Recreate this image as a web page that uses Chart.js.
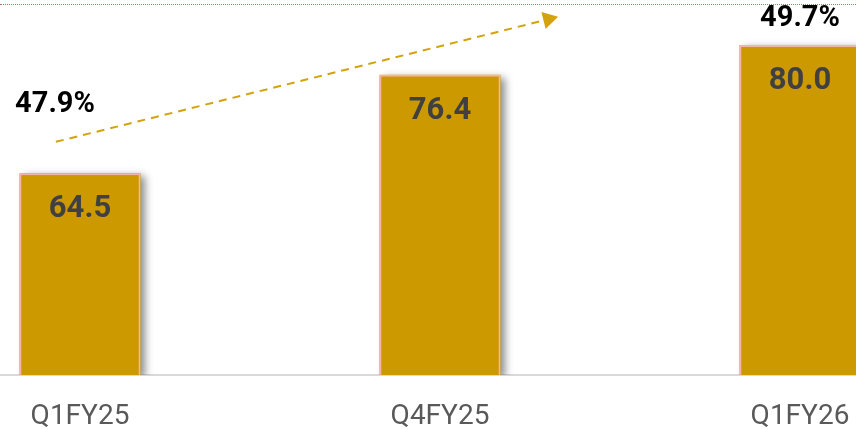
<!DOCTYPE html>
<html>
<head>
<meta charset="utf-8">
<script src="https://cdn.jsdelivr.net/npm/chart.js@4.4.1/dist/chart.umd.min.js"></script>
<style>
  html, body { margin: 0; padding: 0; background: #fff; overflow: hidden; }
  body { width: 856px; height: 429px; position: relative; }
  #topRule { position: absolute; left: 0; top: 4px; width: 856px; border-top: 1px dotted #c86a6a; }
  #wrap { position: absolute; left: -100px; top: 0; width: 1080px; height: 429px; }
</style>
</head>
<body>
<div id="topRule"></div>
<div id="wrap"><canvas id="chart"></canvas></div>
<script>
// categories and values
const quarters = ['Q1FY25', 'Q4FY25', 'Q1FY26'];
const revenue = [64.5, 76.4, 80.0];
const margin = [47.9, null, 49.7];

// trend arrow (category index units / revenue units)
const arrowX = [-0.067, 1.301];
const arrowY = [68.3, 83.1];

const gold = '#CC9900';

// bar drop shadow (bar element clips itself, so paint the shadow underneath first)
const barShadow = {
  id: 'barShadow',
  beforeDatasetDraw(chart, args) {
    if (args.index !== 0) return;
    const ctx = chart.ctx;
    const yScale = chart.scales.y;
    const base = yScale.getPixelForValue(yScale.min);
    ctx.save();
    ctx.beginPath();
    ctx.rect(0, 0, chart.width, base);
    ctx.clip();
    ctx.shadowColor = 'rgba(0,0,0,0.45)';
    ctx.shadowBlur = 8;
    ctx.shadowOffsetX = 5;
    ctx.shadowOffsetY = 3;
    ctx.fillStyle = gold;
    args.meta.data.forEach(bar => {
      ctx.fillRect(bar.x - bar.width / 2, bar.y, bar.width, base - bar.y);
    });
    ctx.restore();
  }
};

// value labels inside bars and margin labels
const valueLabels = {
  id: 'valueLabels',
  afterDatasetsDraw(chart) {
    const ctx = chart.ctx;
    ctx.save();
    ctx.textAlign = 'center';
    ctx.textBaseline = 'middle';

    ctx.font = 'bold 31px Roboto';
    ctx.fillStyle = '#404040';
    chart.getDatasetMeta(0).data.forEach((bar, i) => {
      ctx.fillText(revenue[i].toFixed(1), bar.x, bar.y + 36);
    });

    ctx.font = 'bold 29px Roboto';
    ctx.fillStyle = '#000';
    const shift = [-25, 0, 0];
    chart.getDatasetMeta(1).data.forEach((pt, i) => {
      if (margin[i] === null) return;
      ctx.fillText(margin[i].toFixed(1) + '%', pt.x + shift[i], pt.y);
    });
    ctx.restore();
  }
};

new Chart(document.getElementById('chart'), {
  type: 'bar',
  data: {
    labels: quarters,
    datasets: [
      {
        data: revenue,
        backgroundColor: gold,
        borderColor: '#F5B5A2',
        borderWidth: 2,
        barPercentage: 1,
        categoryPercentage: 0.336,
        grouped: false,
        yAxisID: 'y',
        order: 2
      },
      {
        type: 'line',
        data: margin,
        showLine: false,
        pointRadius: 0,
        yAxisID: 'y2',
        order: 1
      },
      {
        type: 'line',
        data: arrowX.map((x, i) => ({ x: x, y: arrowY[i] })),
        xAxisID: 'xa',
        yAxisID: 'y',
        borderColor: '#D4A20C',
        borderWidth: 2,
        borderDash: [8, 6],
        pointStyle: 'triangle',
        pointRadius: [0, 10],
        pointRotation: 76,
        pointBackgroundColor: '#D4A20C',
        pointBorderWidth: 0,
        clip: false,
        order: 0
      }
    ]
  },
  options: {
    responsive: true,
    maintainAspectRatio: false,
    animation: false,
    layout: { padding: 0, autoPadding: false },
    plugins: {
      legend: { display: false },
      tooltip: { enabled: false }
    },
    scales: {
      x: {
        type: 'category',
        grid: { display: false },
        border: { display: true, color: '#D9D9D9', width: 2 },
        ticks: {
          color: '#595959',
          padding: 17,
          maxRotation: 0,
          font: { family: 'Roboto', size: 28 }
        },
        afterFit(scale) { scale.height = 54; }
      },
      xa: { type: 'linear', display: false, offset: false, min: -0.5, max: 2.5 },
      y: { display: false, min: 40.14, max: 85.43 },
      y2: { display: false, min: 42.25, max: 50.1 }
    }
  },
  plugins: [barShadow, valueLabels]
});
</script>
</body>
</html>
